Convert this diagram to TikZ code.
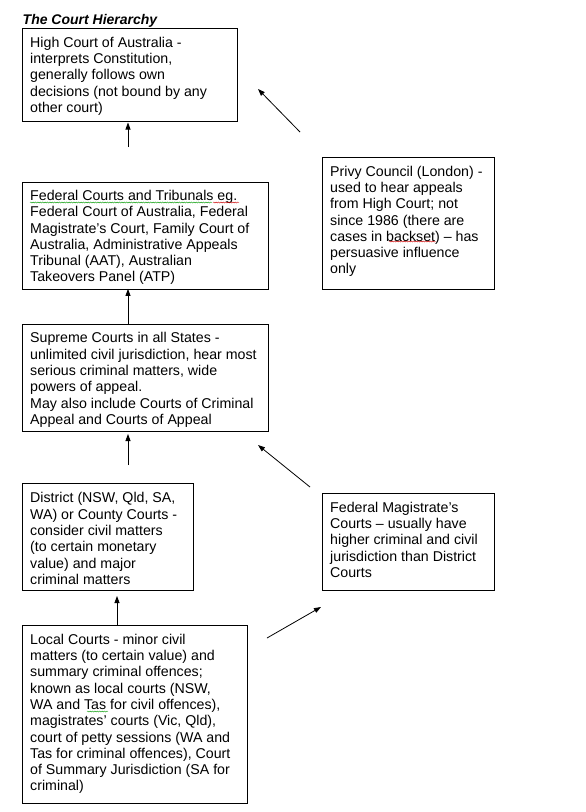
\documentclass[tikz,border=0pt]{standalone}
\usepackage{fontspec}
\setmainfont{Liberation Sans}
\usetikzlibrary{arrows.meta,decorations.pathmorphing}
\begin{document}
\begin{tikzpicture}[x=1pt,y=-1pt,
  box/.style={draw, line width=0.9pt, inner sep=0pt, anchor=north west},
  txt/.style={anchor=north west, inner sep=0pt, align=left, font=\fontsize{14.2}{16.3}\selectfont},
  arr/.style={line width=0.8pt, -{Triangle[length=7pt,width=5pt]}},
  squig/.style={line width=0.4pt, decorate, decoration={snake, amplitude=0.5pt, segment length=2.4pt}}]
\fill[white] (0,0) rectangle (586,812);
\path[use as bounding box] (0,0) rectangle (586,812);
% title
\node[anchor=base west, inner sep=0pt, font=\fontsize{14}{16}\selectfont\bfseries\itshape] (title) at (22.5,24) {The Court Hierarchy};
% boxes
\node[box, minimum width=215pt, minimum height=93pt] (high) at (22,28) {};
\node[txt] (hight) at ([shift={(8,8.7)}]high.north west) {High Court of Australia -\\interprets Constitution,\\generally follows own\\decisions (not bound by any\\other court)};
\node[box, minimum width=246pt, minimum height=107pt] (federal) at (22,182) {};
\node[txt] (federalt) at ([shift={(8,8.0)}]federal.north west) {Federal Courts and Tribunals eg.\\Federal Court of Australia, Federal\\Magistrate’s Court, Family Court of\\Australia, Administrative Appeals\\Tribunal (AAT), Australian\\Takeovers Panel (ATP)};
\node[box, minimum width=246pt, minimum height=107pt] (supreme) at (22,324) {};
\node[txt] (supremet) at ([shift={(8,8.4)}]supreme.north west) {Supreme Courts in all States -\\unlimited civil jurisdiction, hear most\\serious criminal matters, wide\\powers of appeal.\\May also include Courts of Criminal\\Appeal and Courts of Appeal};
\node[box, minimum width=172pt, minimum height=132pt] (privy) at (322,157) {};
\node[txt] (privyt) at ([shift={(8,8.7)}]privy.north west) {Privy Council (London) -\\used to hear appeals\\from High Court; not\\since 1986 (there are\\cases in backset) – has\\persuasive influence\\only};
\node[box, minimum width=171pt, minimum height=107pt] (district) at (22,483) {};
\node[txt] (districtt) at ([shift={(8,9.5)}]district.north west) {District (NSW, Qld, SA,\\WA) or County Courts -\\consider civil matters\\(to certain monetary\\value) and major\\criminal matters};
\node[box, minimum width=225pt, minimum height=178pt] (local) at (22,625) {};
\node[txt] (localt) at ([shift={(8,8.7)}]local.north west) {Local Courts - minor civil\\matters (to certain value) and\\summary criminal offences;\\known as local courts (NSW,\\WA and Tas for civil offences),\\magistrates’ courts (Vic, Qld),\\court of petty sessions (WA and\\Tas for criminal offences), Court\\of Summary Jurisdiction (SA for\\criminal)};
\node[box, minimum width=172pt, minimum height=97pt] (fedmag) at (322,493) {};
\node[txt] (fedmagt) at ([shift={(8,8.7)}]fedmag.north west) {Federal Magistrate’s\\Courts – usually have\\higher criminal and civil\\jurisdiction than District\\Courts};
% free arrow ends
\coordinate (colA) at (128,0);
\coordinate (colB) at (117,0);
\coordinate (hTail) at (128,147);
\coordinate (hHead) at (128,122.5);
\coordinate (pTail) at (300,132);
\coordinate (pHead) at (258,89);
\coordinate (dTail) at (128,465);
\coordinate (dHead) at (128,434);
\coordinate (lHead) at (117,596);
\coordinate (mTail) at (310,487);
\coordinate (mHead) at (258,445);
\coordinate (lmTail) at (267,638);
\coordinate (lmHead) at (321,607);
% arrows
\draw[arr] (hTail) -- (hHead);
\draw[arr] (pTail) -- (pHead);
\draw[arr] (colA |- supreme.north) -- ([yshift=1pt]colA |- federal.south);
\draw[arr] (dTail) -- (dHead);
\draw[arr] (colB |- local.north) -- (lHead);
\draw[arr] (mTail) -- (mHead);
\draw[arr] (lmTail) -- (lmHead);
% spelling squiggles
\draw[squig, green!60!black] (30,202.5) -- (212,202.5);
\draw[squig, red!80!black] (213,202.5) -- (239,202.5);
\draw[squig, red!80!black] (389,241.5) -- (436,241.5);
\draw[squig, green!60!black] (87,711.5) -- (108,711.5);
\end{tikzpicture}
\end{document}
